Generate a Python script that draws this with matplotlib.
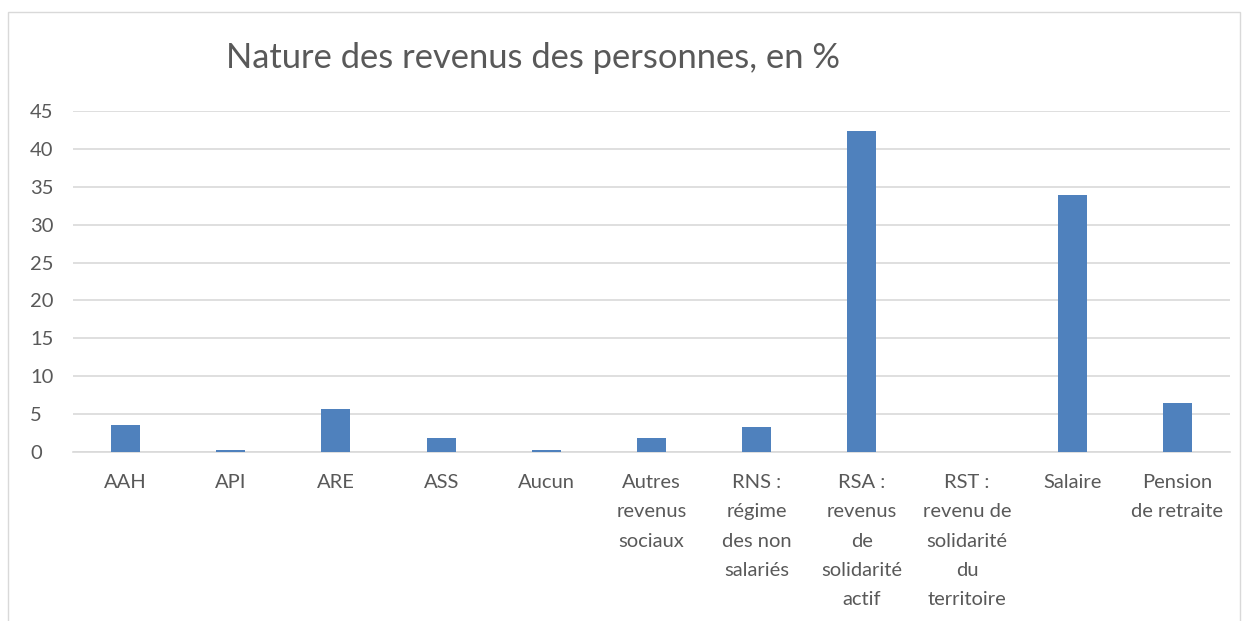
import matplotlib
matplotlib.use('Agg')
import matplotlib.pyplot as plt
from matplotlib.patches import Rectangle

# categories and values (%)
categories = ["AAH", "API", "ARE", "ASS", "Aucun",
              "Autres\nrevenus\nsociaux",
              "RNS :\nrégime\ndes non\nsalariés",
              "RSA :\nrevenus\nde\nsolidarité\nactif",
              "RST :\nrevenu de\nsolidarité\ndu\nterritoire",
              "Salaire",
              "Pension\nde retraite"]
values = [3.6, 0.3, 5.7, 1.9, 0.3, 1.9, 3.3, 42.4, 0.0, 33.9, 6.5]
yticks = [0, 5, 10, 15, 20, 25, 30, 35, 40, 45]

plt.rcParams['font.family'] = ['Lato', 'DejaVu Sans']
txt = '#595959'

fig = plt.figure(figsize=(12.46, 6.21), dpi=100)
# light chart frame
fig.patches.append(Rectangle((8/1246, -0.1), 1232/1246, 1.1 - 12/621,
                             transform=fig.transFigure, fill=False,
                             edgecolor='#d9d9d9', linewidth=1))

ax = fig.add_axes([73/1246, 1 - 452/621, (1230 - 73)/1246, (452 - 111)/621])
x = range(len(categories))
ax.bar(x, values, width=0.275, color='#4f81bd', zorder=3)

ax.set_xlim(-0.5, len(categories) - 0.5)
ax.set_ylim(0, 45)
ax.set_yticks(yticks)
ax.yaxis.grid(True, color='#d9d9d9', linewidth=1.2, zorder=0)
ax.set_xticks(list(x))
ax.set_xticklabels(categories, linespacing=1.87, va='top')
ax.tick_params(axis='both', length=0, labelsize=14.5, colors=txt)
ax.tick_params(axis='x', pad=16)
ax.tick_params(axis='y', pad=31)
for lbl in ax.get_yticklabels():
    lbl.set_horizontalalignment('left')
for s in ['top', 'right', 'left']:
    ax.spines[s].set_visible(False)
ax.spines['bottom'].set_color('#d9d9d9')
ax.spines['bottom'].set_linewidth(1.2)

fig.text(533/1246, 1 - 58/621, "Nature des revenus des personnes, en %",
         ha='center', va='center', fontsize=24.8, color=txt)

plt.savefig('out.png', dpi=100)
